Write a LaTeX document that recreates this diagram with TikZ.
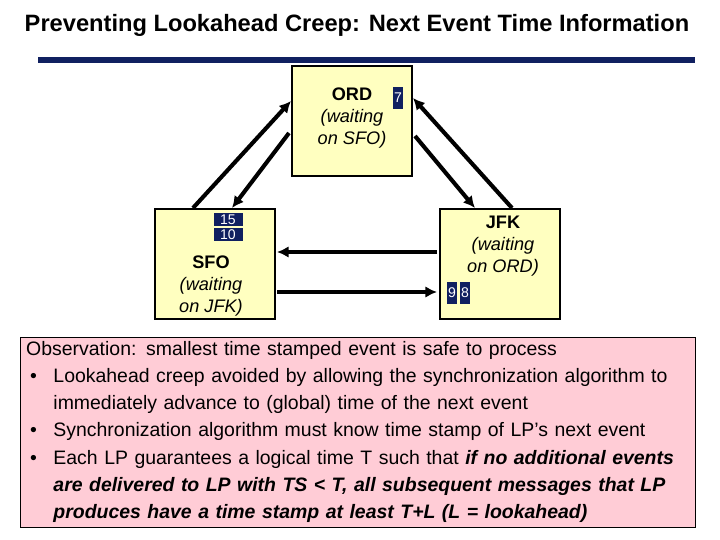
\documentclass[tikz,border=0pt]{standalone}
\usepackage{fontspec}
\setmainfont{Liberation Sans}
\usetikzlibrary{positioning}
\definecolor{boxyellow}{RGB}{255,255,192}
\definecolor{navy}{RGB}{16,32,96}
\definecolor{notepink}{RGB}{255,204,214}
\begin{document}
\begin{tikzpicture}[x=0.03cm, y=-0.03cm,
  lp/.style={draw, line width=1.6pt, fill=boxyellow, minimum width=120*0.03cm, minimum height=110*0.03cm, inner sep=0pt},
  stamp/.style={fill=navy, text=white, font=\fontsize{12}{12}\selectfont, inner sep=1pt, minimum height=13*0.03cm},
  msg/.style={line width=3.5pt, -{Latex[length=10pt,width=10pt]}},
]
\usetikzlibrary{arrows.meta}
\useasboundingbox (0,0) rectangle (720,540);

\node (title) at (357,25) {\fontsize{20.2}{22}\selectfont\bfseries Preventing Lookahead Creep: Next Event Time Information};
\draw [navy, line width=4.5pt] (38,60) -- (695,60);

% the three LPs
\node (ORD) [lp] at (352,121) {};
\node (SFO) [lp] at (215,264) {};
\node (JFK) [lp] at (500,264) {};

\node (ORDtxt) [align=center, font=\fontsize{15.5}{19}\selectfont] at (352,118) {\textbf{ORD}\\ \textit{(waiting}\\ \textit{on SFO)}};
\node (SFOtxt) [align=center, font=\fontsize{15.5}{19}\selectfont] at (211,286) {\textbf{SFO}\\ \textit{(waiting}\\ \textit{on JFK)}};
\node (JFKtxt) [align=center, font=\fontsize{15.5}{19}\selectfont] at (503,246) {\textbf{JFK}\\ \textit{(waiting}\\ \textit{on ORD)}};

% next event time stamps
\node (s7) [stamp, minimum width=10*0.03cm, minimum height=22*0.03cm] at (398,98) {7};
\node (s15) [stamp, minimum width=29*0.03cm] at (228,220) {15};
\node (s10) [stamp, minimum width=29*0.03cm] at (228,235) {10};
\node (s9) [stamp, minimum width=10*0.03cm, minimum height=22*0.03cm] at (452,293) {9};
\node (s8) [stamp, minimum width=10*0.03cm, minimum height=22*0.03cm] at (465,293) {8};

% messages
\coordinate (a1) at (193,208); \coordinate (b1) at (291,101);
\coordinate (a2) at (289,133); \coordinate (b2) at (232,208);
\coordinate (a3) at (415,136); \coordinate (b3) at (475,208);
\coordinate (a4) at (512,208); \coordinate (b4) at (413,98);
\coordinate (a5) at (437,252); \coordinate (b5) at (277,252);
\coordinate (a6) at (277,292); \coordinate (b6) at (437,292);
\draw [msg] (a1) -- (b1);
\draw [msg] (a2) -- (b2);
\draw [msg] (a3) -- (b3);
\draw [msg] (a4) -- (b4);
\draw [msg] (a5) -- (b5);
\draw [msg] (a6) -- (b6);

% observation
\node (obs) [draw, line width=0.8pt, fill=notepink, minimum width=675*0.03cm, minimum height=190*0.03cm, anchor=north west] at (20,337) {};
\node (obstxt) [anchor=north west, align=left, font=\fontsize{16.6}{23.2}\selectfont, text width=670*0.03cm, inner sep=0pt] at (26,341) {%
Observation: smallest time stamped event is safe to process\\
\hspace*{0.2em}\textbullet\hspace{0.85em}Lookahead creep avoided by allowing the synchronization algorithm to\\
\hspace*{1.4em}immediately advance to (global) time of the next event\\
\hspace*{0.2em}\textbullet\hspace{0.85em}Synchronization algorithm must know time stamp of LP’s next event\\
\hspace*{0.2em}\textbullet\hspace{0.85em}Each LP guarantees a logical time T such that \textbf{\textit{if no additional events}}\\
\hspace*{1.4em}\textbf{\textit{are delivered to LP with TS < T, all subsequent messages that LP}}\\
\hspace*{1.4em}\textbf{\textit{produces have a time stamp at least T+L (L = lookahead)}}};
\end{tikzpicture}
\end{document}
